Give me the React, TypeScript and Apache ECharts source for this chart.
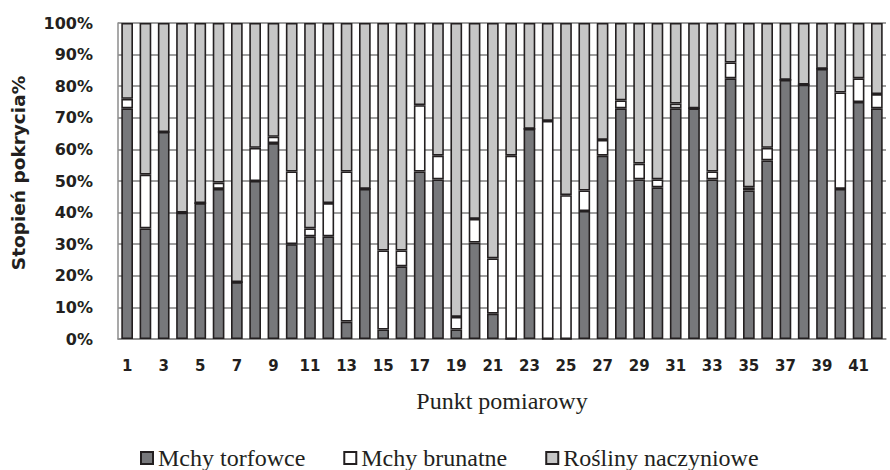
import React, { useEffect, useRef } from "react";
import * as echarts from "echarts";

const categories: string[] = Array.from({ length: 42 }, (_, i) => String(i + 1));

const mchyTorfowce: number[] = [
  73, 35, 65.5, 40, 43, 47.5, 18, 50, 62, 30, 32.5, 32.5, 5.5, 47.5, 3, 23, 53, 50.5, 3, 30.5, 8,
  0, 66.5, 0, 0, 40.5, 58, 73, 50.5, 48, 73, 73, 50.5, 82.5, 47, 56.5, 82, 80.5, 85.5, 47.5, 75, 73,
];

const mchyBrunatne: number[] = [
  3, 17, 0, 0, 0, 2, 0, 10.5, 2, 23, 2.5, 10.5, 47.5, 0, 25, 5, 21, 7.5, 4, 7.5, 17.5,
  58, 0, 69, 45.5, 6.5, 5, 2.5, 5, 2.5, 1.5, 0, 2.5, 5, 1, 4, 0, 0, 0, 30.5, 7.5, 4.5,
];

const roslinyNaczyniowe: number[] = [
  24, 48, 34.5, 60, 57, 50.5, 82, 39.5, 36, 47, 65, 57, 47, 52.5, 72, 72, 26, 42, 93, 62, 74.5,
  42, 33.5, 31, 54.5, 53, 37, 24.5, 44.5, 49.5, 25.5, 27, 47, 12.5, 52, 39.5, 18, 19.5, 14.5, 22, 17.5, 22.5,
];

const seriesNames = ["Mchy torfowce", "Mchy brunatne", "Rośliny naczyniowe"];
const yTicks = { min: 0, max: 100, interval: 10 };

const SANS = "DejaVu Sans";
const SERIF = "serif";

export default function App() {
  const ref = useRef<HTMLDivElement>(null);
  useEffect(() => {
    if (!ref.current) return;
    const chart = echarts.init(ref.current, undefined, { renderer: "svg" });
    const border = { borderColor: "#231f20", borderWidth: 1.6 };
    chart.setOption({
      animation: false,
      backgroundColor: "#ffffff",
      grid: { left: 118, right: 4, top: 23, bottom: 131, containLabel: false },
      legend: {
        top: 441,
        left: 135,
        itemWidth: 12,
        itemHeight: 12,
        itemGap: 38,
        icon: "rect",
        textStyle: { fontFamily: SERIF, fontSize: 24, color: "#231f20" },
        data: seriesNames,
      },
      xAxis: {
        type: "category",
        data: categories,
        name: "Punkt pomiarowy",
        nameLocation: "middle",
        nameGap: 50,
        nameTextStyle: { fontFamily: SERIF, fontSize: 24, color: "#231f20" },
        axisLine: { show: true, lineStyle: { color: "#8c8c8c", width: 1.5 } },
        axisTick: { show: false },
        axisLabel: {
          interval: 1,
          margin: 19,
          fontFamily: SANS,
          fontWeight: "bold",
          fontSize: 15,
          color: "#231f20",
        },
      },
      yAxis: {
        type: "value",
        min: yTicks.min,
        max: yTicks.max,
        interval: yTicks.interval,
        name: "Stopień pokrycia%",
        nameLocation: "middle",
        nameGap: 90,
        nameRotate: 90,
        nameTextStyle: {
          fontFamily: SANS,
          fontWeight: "bold",
          fontSize: 18.5,
          color: "#231f20",
          padding: [0, 0, 0, 16],
        },
        axisLine: { show: true, lineStyle: { color: "#8c8c8c", width: 1.5 } },
        axisTick: { show: false },
        splitLine: { show: true, lineStyle: { color: "#7f7f7f", width: 1.5 } },
        axisLabel: {
          formatter: "{value}%",
          margin: 25,
          fontFamily: SANS,
          fontWeight: "bold",
          fontSize: 16,
          color: "#231f20",
        },
      },
      series: [
        {
          name: seriesNames[0],
          type: "bar",
          stack: "total",
          barCategoryGap: "36%",
          data: mchyTorfowce,
          itemStyle: { color: "#77787b", ...border },
        },
        {
          name: seriesNames[1],
          type: "bar",
          stack: "total",
          data: mchyBrunatne,
          itemStyle: { color: "#ffffff", ...border },
        },
        {
          name: seriesNames[2],
          type: "bar",
          stack: "total",
          data: roslinyNaczyniowe,
          itemStyle: { color: "#c6c6c6", ...border },
        },
      ],
    });
    return () => chart.dispose();
  }, []);
  return (
    <div
      ref={ref}
      style={{ position: "fixed", left: 0, top: 0, width: 890, height: 470, background: "#fff" }}
    />
  );
}
